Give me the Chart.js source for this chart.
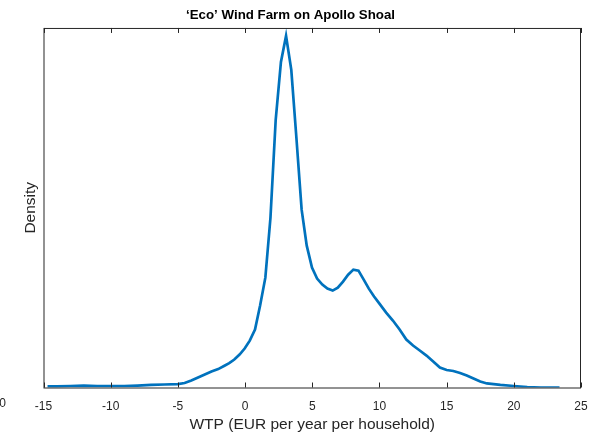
<!DOCTYPE html>
<html>
<head>
<meta charset="utf-8">
<script src="https://cdn.jsdelivr.net/npm/chart.js@4"></script>
<style>
  html, body { margin: 0; padding: 0; background: #fff; }
  #wrap { width: 606px; height: 436px; }
</style>
</head>
<body>
<div id="wrap"><canvas id="chart"></canvas></div>
<script>
// WTP values (EUR per year per household) and estimated kernel density
const wtp = [-14.7, -14, -13, -12, -11, -10, -9, -8, -7, -6, -5, -4.5, -4, -3.5, -3, -2.5, -2, -1.5, -1.18, -0.8,
  -0.41, -0.03, 0.35, 0.74, 1.12, 1.51, 1.89, 2.28, 2.67, 3.05, 3.44, 3.82, 4.21, 4.59, 4.98, 5.36, 5.75, 6.13, 6.52,
  6.9, 7.29, 7.67, 8.06, 8.44, 8.83, 9.21, 9.6, 10, 10.5, 11, 11.5, 12, 12.5, 13, 13.5, 14, 14.5, 15,
  15.5, 16, 16.5, 17, 17.5, 18, 19, 20, 21, 22, 23.4];
const density = [0.0007, 0.0007, 0.0010, 0.0013, 0.0010, 0.0010, 0.0010, 0.0013, 0.0017, 0.0020, 0.0023, 0.0030,
  0.0047, 0.0067, 0.0087, 0.0107, 0.0123, 0.0147, 0.0163, 0.0187,
  0.0220, 0.0260, 0.0313, 0.0387, 0.0547, 0.0733, 0.1133, 0.1787, 0.2173, 0.2347, 0.2120, 0.1667, 0.1187, 0.0947,
  0.0800, 0.0727, 0.0687, 0.0660, 0.0647,
  0.0667, 0.0707, 0.0753, 0.0787, 0.0780, 0.0720, 0.0660, 0.0607, 0.0560, 0.0500, 0.0447, 0.0387, 0.0320,
  0.0280, 0.0247, 0.0213, 0.0173, 0.0133, 0.0117,
  0.0110, 0.0097, 0.0080, 0.0060, 0.0040, 0.0027, 0.0017, 0.0010, 0.0003, 0.0000, 0.0000];
const xTicks = [-15, -10, -5, 0, 5, 10, 15, 20, 25];

const axisColor = '#262626';
const fontFamily = '"Liberation Sans", Arial, Helvetica, sans-serif';

// box around the axes with inward ticks, matlab style
const boxPlugin = {
  id: 'box',
  afterDraw(chart) {
    const { ctx, chartArea: a, scales: { x } } = chart;
    ctx.save();
    ctx.strokeStyle = axisColor;
    ctx.lineWidth = 1;
    ctx.strokeRect(a.left + 0.5, a.top + 0.5, a.right - a.left - 1, a.bottom - a.top);
    ctx.beginPath();
    xTicks.forEach(t => {
      const px = Math.round(x.getPixelForValue(t)) + 0.5;
      ctx.moveTo(px, a.bottom);
      ctx.lineTo(px, a.bottom - 5);
      ctx.moveTo(px, a.top);
      ctx.lineTo(px, a.top + 5);
    });
    ctx.stroke();
    // stray label at the far left of the tick row
    ctx.fillStyle = axisColor;
    ctx.font = '12px ' + fontFamily;
    ctx.textAlign = 'center';
    ctx.textBaseline = 'middle';
    ctx.fillText('0', 2.5, 404);
    ctx.restore();
  }
};

new Chart(document.getElementById('chart'), {
  type: 'line',
  data: {
    datasets: [{
      data: wtp.map((v, i) => ({ x: v, y: density[i] })),
      borderColor: '#0072BD',
      borderWidth: 2.7,
      pointRadius: 0,
      tension: 0,
      fill: false
    }]
  },
  options: {
    responsive: true,
    maintainAspectRatio: false,
    animation: false,
    layout: { padding: { left: 0, right: 25, top: 0, bottom: 0 } },
    plugins: {
      legend: { display: false },
      tooltip: { enabled: false },
      title: {
        display: true,
        text: '‘Eco’ Wind Farm on Apollo Shoal',
        color: '#000',
        font: { family: fontFamily, size: 13.3, weight: 'bold' },
        padding: { top: 7, bottom: 5 }
      }
    },
    scales: {
      x: {
        type: 'linear',
        min: -15,
        max: 25,
        afterBuildTicks: s => { s.ticks = xTicks.map(v => ({ value: v })); },
        afterFit: s => { s.height = 48.5; },
        grid: { display: false },
        border: { display: false },
        ticks: {
          color: axisColor,
          padding: 4,
          maxRotation: 0,
          font: { family: fontFamily, size: 12 }
        },
        title: {
          display: true,
          text: 'WTP (EUR per year per household)',
          color: axisColor,
          font: { family: fontFamily, size: 15.5 },
          padding: { top: 0, bottom: 2 }
        }
      },
      y: {
        min: 0,
        max: 0.24,
        afterFit: s => { s.width = 43.5; },
        grid: { display: false },
        border: { display: false },
        ticks: { display: false },
        title: {
          display: true,
          text: 'Density',
          color: axisColor,
          font: { family: fontFamily, size: 15.5 },
          padding: { top: 21.5, bottom: 0 }
        }
      }
    }
  },
  plugins: [boxPlugin]
});
</script>
</body>
</html>
